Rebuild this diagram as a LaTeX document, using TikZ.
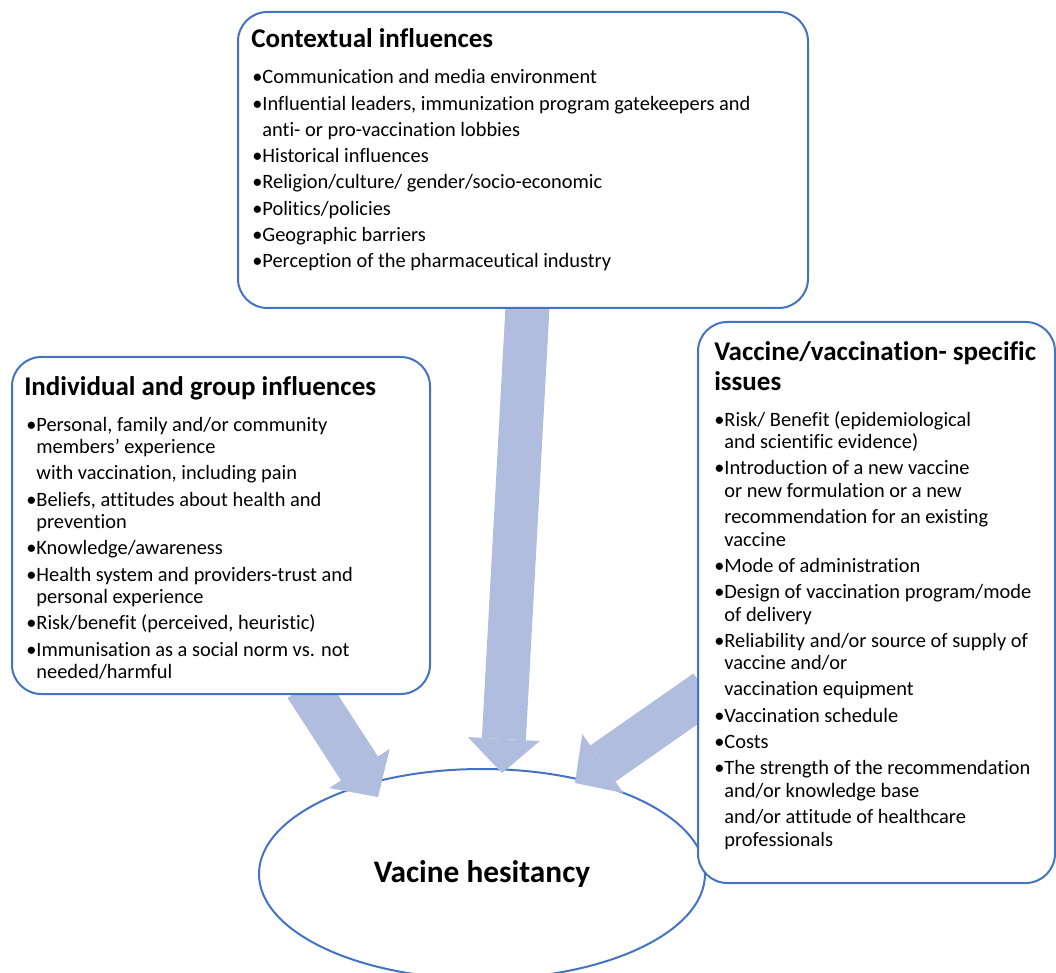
\documentclass[tikz,border=0pt]{standalone}
\usepackage{fontspec}
\setmainfont{Carlito}[Ligatures=CommonOff]
\usetikzlibrary{arrows.meta,shapes.geometric,fit}
\definecolor{boxblue}{RGB}{68,114,196}
\definecolor{arrowblue}{RGB}{176,189,223}
\pgfdeclarelayer{back}
\pgfsetlayers{back,main}
\newcommand{\nl}{\\[2.8125pt]}
\newcommand{\ind}{\hphantom{•}}
\newcommand{\blist}[1]{\parbox[t]{420pt}{\raggedright #1}}

\begin{document}
\begin{tikzpicture}[x=0.75pt, y=-0.75pt,
    box/.style={draw=boxblue, line width=1.5pt, rounded corners=22pt, fill=white, inner sep=0pt, outer sep=0pt},
    boxtitle/.style={anchor=base west, inner sep=0pt, font=\fontsize{20.25pt}{22.5pt}\selectfont\bfseries},
    list/.style={anchor=base west, inner sep=0pt, font=\fontsize{15.3pt}{16.875pt}\selectfont},
    fat/.style={arrowblue, line width=33pt, -{Triangle[length=25.5pt, width=54pt, line width=0pt]}}]
\useasboundingbox (0,0) rectangle (1056,973);

% Boxes
\node[box, fit={(238,12) (808,308)}] (ctx) {};
\node[box, fit={(12,357) (430,694)}] (ind) {};
\node[box, fit={(698,322) (1055,883)}] (vac) {};

% Contextual influences
\node[boxtitle] (ctxT) at (251,48) {Contextual influences};
\node[list] (ctxL) at (252,84) {\blist{%
•Communication and media environment\nl
•Influential leaders, immunization program gatekeepers and\nl
\ind anti- or pro-vaccination lobbies\nl
•Historical influences\nl
•Religion/culture/ gender/socio-economic\nl
•Politics/policies\nl
•Geographic barriers\nl
•Perception of the pharmaceutical industry}};

% Individual and group influences
\node[boxtitle] (indT) at (24,395) {Individual and group influences};
\node[list] (indL) at (26,431) {\blist{%
•Personal, family and/or community\\
\ind members’ experience\nl
\ind with vaccination, including pain\nl
•Beliefs, attitudes about health and\\
\ind prevention\nl
•Knowledge/awareness\nl
•Health system and providers-trust and\\
\ind personal experience\nl
•Risk/benefit (perceived, heuristic)\nl
•Immunisation as a social norm vs. not\\
\ind needed/harmful}};

% Vaccine/vaccination-specific issues
\node[boxtitle] (vacT) at (714,361) {\blist{Vaccine/vaccination- specific\\issues}};
\node[list] (vacL) at (714,426) {\blist{%
•Risk/ Benefit (epidemiological\\
\ind and scientific evidence)\nl
•Introduction of a new vaccine\\
\ind or new formulation or a new\nl
\ind recommendation for an existing\\
\ind vaccine\nl
•Mode of administration\nl
•Design of vaccination program/mode\\
\ind of delivery\nl
•Reliability and/or source of supply of\\
\ind vaccine and/or\nl
\ind vaccination equipment\nl
•Vaccination schedule\nl
•Costs\nl
•The strength of the recommendation\\
\ind and/or knowledge base\nl
\ind and/or attitude of healthcare\\
\ind professionals}};

% Vaccine hesitancy and arrows
\begin{pgfonlayer}{back}
\node[ellipse, draw=boxblue, line width=1.5pt, fill=white, minimum width=334.5pt, minimum height=157.5pt,
      inner sep=0pt, font=\fontsize{23.5pt}{26pt}\selectfont\bfseries] (hes) at (482,874) {Vacine hesitancy};
\draw[fat] ([shift={(5,-10)}]ctx.south) -- ([shift={(20,-101)}]hes.center);
\draw[fat] ([shift={(85,-8)}]ind.south) -- ([shift={(-104,-77)}]hes.center);
\draw[fat] ([shift={(8,89)}]vac.west) -- ([shift={(93,-91)}]hes.center);
\end{pgfonlayer}
\end{tikzpicture}
\end{document}
